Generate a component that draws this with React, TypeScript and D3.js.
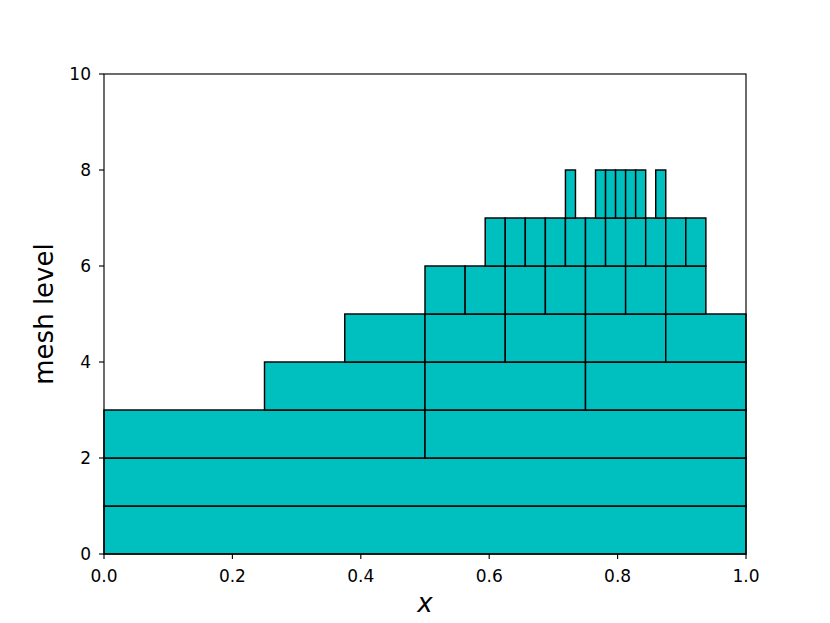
import React from 'react';
import * as d3 from 'd3';

// mesh levels drawn as stacked rows of cells
const meshLevels = [0, 1, 2, 3, 4, 5, 6, 7];
const cellWidths = [1, 1, 0.5, 0.25, 0.125, 0.0625, 0.03125, 0.015625];
const cellStarts = [
  [0],
  [0],
  [0, 0.5],
  [0.25, 0.5, 0.75],
  [0.375, 0.5, 0.625, 0.75, 0.875],
  [0.5, 0.5625, 0.625, 0.6875, 0.75, 0.8125, 0.875],
  [0.59375, 0.625, 0.65625, 0.6875, 0.71875, 0.75, 0.78125, 0.8125, 0.84375, 0.875, 0.90625],
  [0.71875, 0.765625, 0.78125, 0.796875, 0.8125, 0.828125, 0.859375],
];
const xTicks = [0, 0.2, 0.4, 0.6, 0.8, 1.0];
const yTicks = [0, 2, 4, 6, 8, 10];

const W = 830;
const H = 623;
const margin = { left: 104, right: 84, top: 74, bottom: 69 };
const font = 'DejaVu Sans, sans-serif';

export default function App() {
  const x = d3.scaleLinear().domain([0, 1]).range([margin.left, W - margin.right]);
  const y = d3.scaleLinear().domain([0, 10]).range([H - margin.bottom, margin.top]);

  const cells = meshLevels.flatMap((lev, i) =>
    cellStarts[i].map((s) => ({ lev, x0: s, x1: s + cellWidths[i] }))
  );

  return (
    <svg width={W} height={H} style={{ position: 'absolute', left: 0, top: 0, background: '#fff' }}>
      <g>
        {cells.map((c, i) => (
          <rect
            key={i}
            x={x(c.x0)}
            y={y(c.lev + 1)}
            width={x(c.x1) - x(c.x0)}
            height={y(c.lev) - y(c.lev + 1)}
            fill="#00bfbf"
            stroke="#000"
            strokeWidth={1.44}
          />
        ))}
      </g>
      <rect
        x={x(0)}
        y={y(10)}
        width={x(1) - x(0)}
        height={y(0) - y(10)}
        fill="none"
        stroke="#000"
        strokeWidth={1.15}
      />
      <g fontFamily={font} fontSize={17} fill="#000">
        {xTicks.map((t) => (
          <g key={'x' + t}>
            <line x1={x(t)} x2={x(t)} y1={y(0)} y2={y(0) + 5} stroke="#000" strokeWidth={1.15} />
            <text x={x(t)} y={582} textAnchor="middle">{d3.format('.1f')(t)}</text>
          </g>
        ))}
        {yTicks.map((t) => (
          <g key={'y' + t}>
            <line x1={x(0) - 5} x2={x(0)} y1={y(t)} y2={y(t)} stroke="#000" strokeWidth={1.15} />
            <text x={91} y={y(t) + 6} textAnchor="end">{t}</text>
          </g>
        ))}
      </g>
      <text x={425} y={612} textAnchor="middle" fontFamily={font} fontStyle="italic" fontSize={26}>x</text>
      <text
        transform={`translate(53,${(y(0) + y(10)) / 2}) rotate(-90)`}
        textAnchor="middle"
        fontFamily={font}
        fontSize={26}
      >
        mesh level
      </text>
    </svg>
  );
}
